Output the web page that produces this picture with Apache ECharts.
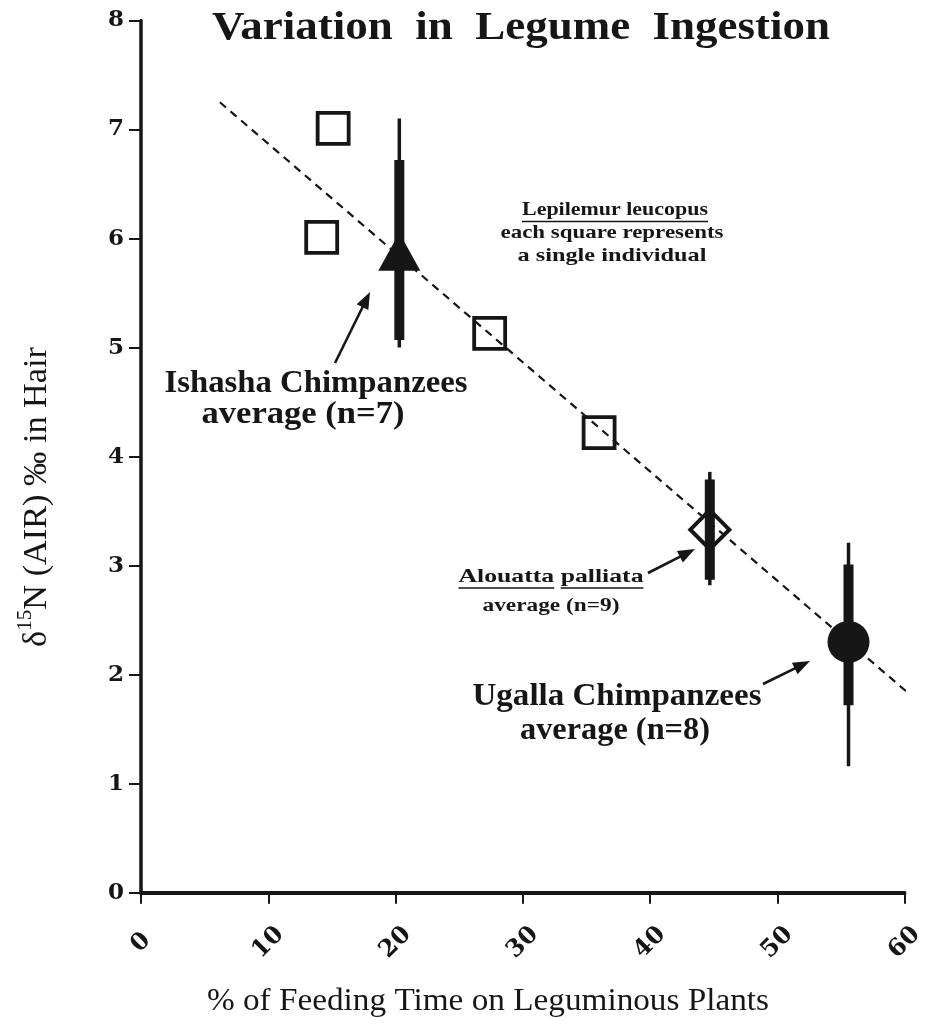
<!DOCTYPE html>
<html><head><meta charset="utf-8">
<script src="https://cdn.jsdelivr.net/npm/echarts@6/dist/echarts.min.js"></script>
<style>html,body{margin:0;padding:0;background:#fff}#c{width:943px;height:1025px}</style>
</head><body><div id="c"></div>
<script>
// ---- data ----
const squareX = [15.1, 14.2, 27.4, 36.0];
const squareY = [7.01, 6.01, 5.13, 4.22];
const groupNames = ['Ishasha Chimpanzees', 'Alouatta palliata', 'Ugalla Chimpanzees'];
const groupX = [20.3, 44.7, 55.6];
const groupY = [5.88, 3.33, 2.30];
const sdLow = [5.07, 2.87, 1.72];
const sdHigh = [6.72, 3.79, 3.01];
const rangeLow = [5.00, 2.82, 1.16];
const rangeHigh = [7.10, 3.86, 3.21];
const trendX = [6.2, 63.0];
const trendY = [7.25, 1.56];
const xTicks = [0, 10, 20, 30, 40, 50, 60];
const yTicks = [0, 1, 2, 3, 4, 5, 6, 7, 8];

// ---- styling ----
const INK = '#161616';
const SERIF = '"Liberation Serif", "Times New Roman", serif';
const DSERIF = '"DejaVu Serif", serif';
const groupMarker = [
  { symbol: 'triangle', size: [42, 38], fill: INK, border: 0 },
  { symbol: 'diamond', size: [39, 39], fill: 'rgba(0,0,0,0)', border: 4 },
  { symbol: 'circle', size: 42, fill: INK, border: 0 }
];

const mctx = document.createElement('canvas').getContext('2d');
function textWidth(t, size, weight) {
  mctx.font = weight + ' ' + size + 'px "Liberation Serif"';
  return mctx.measureText(t).width;
}
function label(t, cx, baseline, size, weight, width) {
  const w = textWidth(t, size, weight);
  const sx = width ? width / w : 1;
  return {
    type: 'text', x: cx, y: baseline - 0.34 * size, scaleX: sx, z: 100, silent: true,
    style: { text: t, fontSize: size, fontFamily: SERIF, fontWeight: weight, fill: INK,
             align: 'center', verticalAlign: 'middle' }
  };
}
function hline(x1, x2, y, lw) {
  return { type: 'line', z: 100, silent: true, shape: { x1: x1, y1: y, x2: x2, y2: y },
           style: { stroke: INK, lineWidth: lw || 1.6 } };
}
function arrow(sx, sy, tx, ty) {
  const dx = tx - sx, dy = ty - sy, L = Math.hypot(dx, dy);
  const ux = dx / L, uy = dy / L, nx = -uy, ny = ux;
  const hl = 17, hw = 6.5;
  const bx = tx - ux * hl, by = ty - uy * hl;
  return [
    { type: 'line', z: 100, silent: true, shape: { x1: sx, y1: sy, x2: bx + ux * 2, y2: by + uy * 2 },
      style: { stroke: INK, lineWidth: 2.6 } },
    { type: 'polygon', z: 100, silent: true,
      shape: { points: [[tx, ty], [bx + nx * hw, by + ny * hw], [bx - nx * hw, by - ny * hw]] },
      style: { fill: INK } }
  ];
}
function underlineWords(text, cx, size, weight, width, y) {
  const total = textWidth(text, size, weight);
  const sx = width / total;
  const left = cx - width / 2;
  const out = [];
  let pos = 0;
  text.split(' ').forEach((wd) => {
    const ww = textWidth(wd, size, weight);
    out.push(hline(left + pos * sx, left + (pos + ww) * sx, y, 1.6));
    pos += ww + textWidth(' ', size, weight);
  });
  return out;
}

// y-axis name (rich text with superscript)
function yName() {
  const size = 34, sup = 21;
  const w = textWidth('δ', size, 'normal') + textWidth('15', sup, 'normal') +
            textWidth('N (AIR) ‰ in Hair', size, 'normal');
  return {
    type: 'text', x: 37, y: 497, rotation: Math.PI / 2, scaleX: 300 / w, z: 100, silent: true,
    style: {
      text: '{d|δ}{s|15}{n|N (AIR) ‰ in Hair}', align: 'center', verticalAlign: 'middle', fill: INK,
      rich: {
        d: { fontSize: size, fontFamily: SERIF, fill: INK },
        s: { fontSize: sup, fontFamily: SERIF, fill: INK, padding: [0, 0, 24, 0] },
        n: { fontSize: size, fontFamily: SERIF, fill: INK }
      }
    }
  };
}

const graphics = [
  label('Variation  in  Legume  Ingestion', 521, 42, 40, 'bold', 618),
  label('Lepilemur leucopus', 615, 217, 19, 'bold', 186),
  hline(522, 708, 221.5, 1.6),
  label('each square represents', 612, 240, 19, 'bold', 223),
  label('a single individual', 612, 263, 19, 'bold', 189),
  label('Ishasha Chimpanzees', 316, 395, 32, 'bold', 303),
  label('average (n=7)', 303, 426, 32, 'bold', 203),
  label('Alouatta palliata', 551, 584, 19, 'bold', 185),
  ...underlineWords('Alouatta palliata', 551, 19, 'bold', 185, 588),
  label('average (n=9)', 551, 612, 18, 'bold', 137),
  label('Ugalla Chimpanzees', 617, 708, 31, 'bold', 289),
  label('average (n=8)', 615, 742, 31, 'bold', 190),
  label('% of Feeding Time on Leguminous Plants', 488, 1012, 31, 'normal', 562),
  yName(),
  ...arrow(335, 363, 370, 292),
  ...arrow(648, 573, 695, 549),
  ...arrow(763, 684, 810, 661)
];

const chart = echarts.init(document.getElementById('c'), null, { renderer: 'canvas' });
chart.setOption({
  animation: false,
  backgroundColor: '#ffffff',
  grid: { left: 141, right: 38.5, top: 20.5, bottom: 132.3, containLabel: false },
  xAxis: {
    type: 'value', min: xTicks[0], max: xTicks[xTicks.length - 1], interval: xTicks[1] - xTicks[0],
    splitLine: { show: false },
    axisLine: { show: true, onZero: false, lineStyle: { color: INK, width: 4 } },
    axisTick: { show: true, length: 11, lineStyle: { color: INK, width: 2 } },
    axisLabel: { rotate: 45, align: 'center', verticalAlign: 'middle', margin: 50,
                 fontFamily: DSERIF, fontWeight: 'bold', fontSize: 24, color: INK }
  },
  yAxis: {
    type: 'value', min: yTicks[0], max: yTicks[yTicks.length - 1], interval: yTicks[1] - yTicks[0],
    splitLine: { show: false },
    axisLine: { show: true, onZero: false, lineStyle: { color: INK, width: 3.5 } },
    axisTick: { show: true, length: 12, lineStyle: { color: INK, width: 2 } },
    axisLabel: { margin: 17, fontFamily: DSERIF, fontWeight: 'bold', fontSize: 23, color: INK }
  },
  graphic: graphics,
  series: [
    {
      name: 'trend', type: 'line', clip: false, silent: true, z: 2,
      data: trendX.map((x, i) => [x, trendY[i]]),
      showSymbol: false, symbol: 'none',
      lineStyle: { color: INK, width: 2.2, type: [8, 6] }
    },
    {
      name: 'ranges', type: 'custom', clip: false, silent: true, z: 3,
      data: groupX.map((x, i) => [x, rangeLow[i], rangeHigh[i], sdLow[i], sdHigh[i]]),
      encode: { x: 0, y: [1, 2, 3, 4] },
      renderItem: function (params, api) {
        const x = api.value(0);
        const a = api.coord([x, api.value(1)]);
        const b = api.coord([x, api.value(2)]);
        const c = api.coord([x, api.value(3)]);
        const d = api.coord([x, api.value(4)]);
        return {
          type: 'group', children: [
            { type: 'rect', shape: { x: a[0] - 1.75, y: b[1], width: 3.5, height: a[1] - b[1] }, style: { fill: INK } },
            { type: 'rect', shape: { x: c[0] - 5, y: d[1], width: 10, height: c[1] - d[1] }, style: { fill: INK } }
          ]
        };
      }
    },
    {
      name: 'Lepilemur leucopus', type: 'scatter', silent: true, z: 4,
      data: squareX.map((x, i) => [x, squareY[i]]),
      symbol: 'rect', symbolSize: 31,
      itemStyle: { color: 'rgba(0,0,0,0)', borderColor: INK, borderWidth: 3.8, opacity: 1 }
    },
    {
      name: 'averages', type: 'scatter', silent: true, z: 5,
      data: groupX.map((x, i) => ({
        name: groupNames[i], value: [x, groupY[i]],
        symbol: groupMarker[i].symbol, symbolSize: groupMarker[i].size,
        itemStyle: { color: groupMarker[i].fill, borderColor: INK, borderWidth: groupMarker[i].border, opacity: 1 }
      }))
    }
  ]
});
</script>
</body></html>
